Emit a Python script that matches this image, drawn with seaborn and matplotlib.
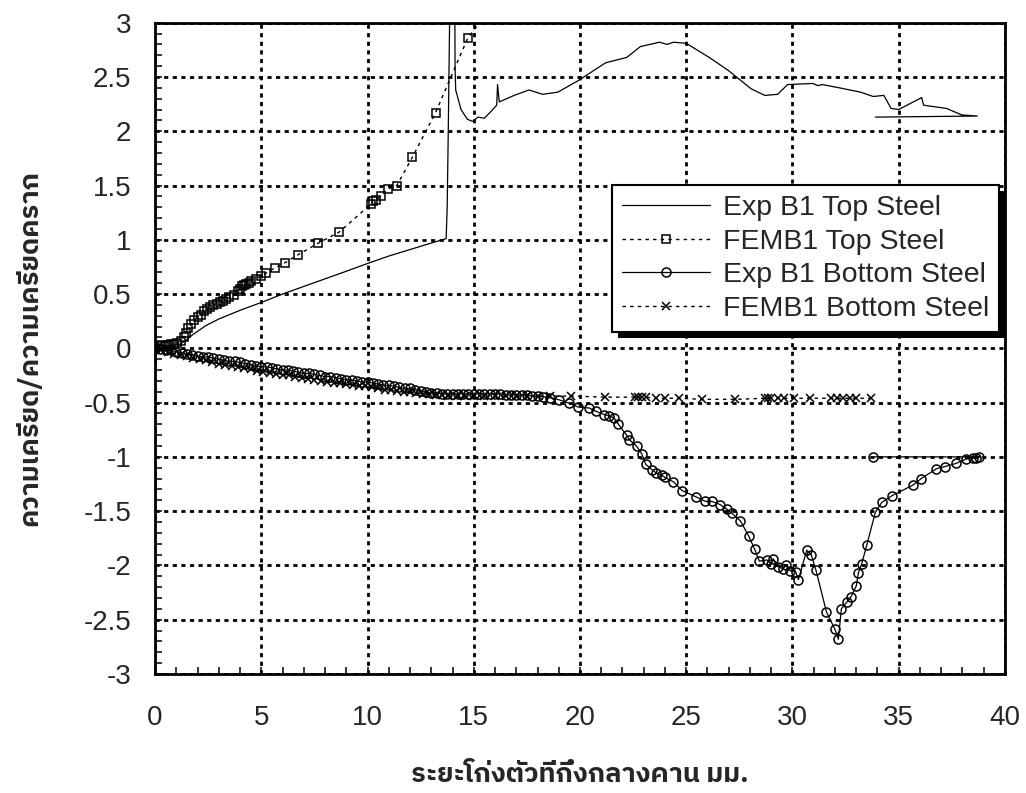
import numpy as np
import matplotlib
matplotlib.use("Agg")
import matplotlib.pyplot as plt
from matplotlib import font_manager
from matplotlib.ft2font import FT2Font
from matplotlib.patches import Rectangle
from matplotlib.transforms import IdentityTransform
from matplotlib.ticker import MultipleLocator
import seaborn as sns

# Exp B1 Top Steel (solid line, no markers)
exp_top_x = [0.0, 0.3, 0.6, 0.9, 1.2, 1.5, 1.8, 2.4, 3.0, 4.0, 5.1, 6.0, 7.0, 8.0, 9.0,
             10.05, 11.0, 12.0, 13.0, 13.7, 13.75, 13.8, 13.85, 13.9, 14.1, 14.12, 14.15,
             14.4, 14.7, 14.95, 15.2, 15.5, 15.8, 16.08, 16.12, 16.2, 16.9, 17.6, 18.24,
             18.96, 19.95, 21.2, 22.2, 22.84, 23.74, 24.1, 24.4, 25.0, 26.08, 26.98, 28.06,
             28.7, 29.3, 29.77, 30.95, 31.2, 31.4, 32.2, 33.2, 33.8, 34.3, 34.64, 35.0,
             36.08, 36.17, 37.25, 37.97, 38.7, 33.9]
exp_top_y = [0.02, 0.03, 0.02, 0.03, 0.04, 0.08, 0.13, 0.21, 0.27, 0.35, 0.43, 0.50, 0.57,
             0.64, 0.71, 0.785, 0.85, 0.91, 0.97, 1.01, 1.3, 2.0, 2.8, 3.6, 3.6, 2.6, 2.38,
             2.2, 2.11, 2.09, 2.13, 2.12, 2.18, 2.24, 2.43, 2.27, 2.33, 2.38, 2.34,
             2.36, 2.47, 2.63, 2.68, 2.78, 2.82, 2.80, 2.82, 2.81, 2.68, 2.56, 2.39,
             2.33, 2.34, 2.43, 2.44, 2.42, 2.43, 2.40, 2.36, 2.32, 2.33, 2.21, 2.20,
             2.31, 2.24, 2.21, 2.15, 2.14, 2.13]

# FEMB1 Top Steel (dotted line, square markers)
fem_top_x = [0.0, 0.15, 0.3, 0.45, 0.6, 0.75, 0.9, 1.05, 1.2, 1.35, 1.45, 1.55, 1.7, 1.85,
             2.0, 2.15, 2.3, 2.45, 2.6, 2.75, 2.9, 3.05, 3.2, 3.35, 3.5, 3.7, 3.9, 4.0, 4.1,
             4.2, 4.3, 4.4, 4.5, 4.75, 4.97, 5.2, 5.64, 6.13, 6.71, 7.69, 8.66, 10.17,
             10.25, 10.4, 10.64, 10.98, 11.38, 12.11, 13.2, 14.72, 15.6]
fem_top_y = [0.0, 0.02, 0.03, 0.02, 0.03, 0.04, 0.04, 0.05, 0.07, 0.10, 0.14, 0.19, 0.22,
             0.26, 0.29, 0.31, 0.34, 0.36, 0.38, 0.40, 0.41, 0.43, 0.44, 0.45, 0.47, 0.49,
             0.53, 0.55, 0.57, 0.58, 0.59, 0.60, 0.62, 0.64, 0.67, 0.69, 0.74, 0.79, 0.86,
             0.97, 1.07, 1.33, 1.36, 1.37, 1.40, 1.47, 1.50, 1.76, 2.17, 2.86, 3.08]

# Exp B1 Bottom Steel (solid line, circle markers)
exp_bot_x = [0.0, 0.25, 0.5, 0.75, 1.0, 1.25, 1.5, 1.75, 2.0, 2.25, 2.5, 2.75, 3.0, 3.25,
             3.5, 3.75, 4.0, 4.25, 4.5, 4.75, 5.0, 5.25, 5.5, 5.75, 6.0, 6.25, 6.5, 6.75,
             7.0, 7.25, 7.5, 7.75, 8.0, 8.25, 8.5, 8.75, 9.0, 9.25, 9.5, 9.75, 10.0, 10.25,
             10.5, 10.75, 11.0, 11.25, 11.5, 11.75, 12.0, 12.25, 12.5, 12.75, 13.0, 13.25,
             13.5, 13.75, 14.0, 14.25, 14.5, 14.75, 15.0, 15.25, 15.5, 15.75, 16.0, 16.25,
             16.5, 16.75, 17.0, 17.25, 17.5, 17.75, 18.0, 18.25, 18.6, 19.03, 19.5, 19.9,
             20.44, 20.75, 21.14, 21.35, 21.6, 21.81, 22.19, 22.31, 22.66, 22.9, 23.1, 23.4,
             23.6, 23.85, 24.0, 24.4, 24.8, 25.48, 25.9, 26.2, 26.6, 26.9, 27.15, 27.55,
             27.94, 28.22, 28.44, 28.8, 29.0, 29.1, 29.3, 29.55, 29.7, 29.9, 30.15, 30.28,
             30.67, 30.88, 31.1, 31.6, 32.0, 32.16, 32.3, 32.55, 32.75, 33.0, 33.1, 33.25,
             33.5, 33.9, 34.2, 34.66, 35.67, 36.06, 36.77, 37.16, 37.7, 38.17, 38.5, 38.64,
             38.8, 33.8]
exp_bot_y = [0.0, -0.01, -0.02, -0.02, -0.03, -0.04, -0.05, -0.06, -0.07, -0.08, -0.08,
             -0.09, -0.10, -0.11, -0.12, -0.12, -0.13, -0.14, -0.15, -0.16, -0.17, -0.17,
             -0.18, -0.19, -0.20, -0.20, -0.21, -0.22, -0.23, -0.23, -0.24, -0.25, -0.26,
             -0.26, -0.27, -0.28, -0.29, -0.29, -0.30, -0.31, -0.31, -0.32, -0.33, -0.34,
             -0.34, -0.35, -0.36, -0.37, -0.37, -0.38, -0.39, -0.40, -0.41, -0.41, -0.42,
             -0.42, -0.42, -0.42, -0.42, -0.42, -0.42, -0.42, -0.42, -0.42, -0.42, -0.42,
             -0.43, -0.43, -0.43, -0.43, -0.43, -0.44, -0.44, -0.445, -0.455, -0.475,
             -0.506, -0.54, -0.55, -0.58, -0.61, -0.62, -0.64, -0.70, -0.80, -0.84, -0.90,
             -0.97, -1.07, -1.12, -1.15, -1.17, -1.19, -1.23, -1.31, -1.37, -1.41, -1.41,
             -1.44, -1.48, -1.52, -1.59, -1.73, -1.85, -1.96, -1.95, -1.99, -1.94, -2.01,
             -2.03, -2.00, -2.05, -2.06, -2.13, -1.86, -1.90, -2.04, -2.43, -2.59, -2.68,
             -2.40, -2.34, -2.29, -2.19, -2.07, -1.99, -1.81, -1.51, -1.42, -1.36, -1.26,
             -1.20, -1.11, -1.09, -1.06, -1.02, -1.01, -1.01, -1.00, -1.00]

# FEMB1 Bottom Steel (dotted line, x markers)
fem_bot_x = [0.0, 0.3, 0.6, 0.9, 1.2, 1.5, 1.8, 2.1, 2.4, 2.7, 3.0, 3.3, 3.6, 3.9, 4.2, 4.5,
             4.8, 5.1, 5.4, 5.7, 6.0, 6.3, 6.6, 6.9, 7.2, 7.5, 7.8, 8.1, 8.4, 8.7, 9.0, 9.3,
             9.6, 9.9, 10.2, 10.5, 10.8, 11.1, 11.4, 11.7, 12.0, 12.3, 12.6, 12.9, 13.2,
             13.5, 13.8, 14.2, 14.6, 15.0, 15.5, 16.0, 16.5, 17.0, 17.5, 18.0, 18.6, 19.6,
             21.2, 22.6, 22.75, 22.9, 23.1, 23.6, 24.0, 24.66, 25.75, 27.3, 28.7, 28.85,
             29.0, 29.3, 29.6, 30.05, 30.83, 31.8, 32.1, 32.4, 32.7, 33.0, 33.7]
fem_bot_y = [0.0, -0.02, -0.03, -0.05, -0.06, -0.07, -0.09, -0.10, -0.11, -0.13, -0.14,
             -0.15, -0.16, -0.17, -0.18, -0.19, -0.21, -0.22, -0.23, -0.24, -0.25, -0.25,
             -0.26, -0.27, -0.28, -0.29, -0.30, -0.31, -0.32, -0.32, -0.33, -0.34, -0.35,
             -0.35, -0.36, -0.37, -0.38, -0.38, -0.39, -0.40, -0.40, -0.41, -0.42, -0.42,
             -0.43, -0.43, -0.44, -0.44, -0.44, -0.44, -0.44, -0.44, -0.44, -0.44, -0.44,
             -0.44, -0.44, -0.44, -0.45, -0.45, -0.45, -0.45, -0.45, -0.46, -0.46, -0.46,
             -0.47, -0.47, -0.46, -0.46, -0.46, -0.46, -0.46, -0.46, -0.46, -0.46, -0.46,
             -0.46, -0.46, -0.46, -0.46]

legend_labels = ["Exp B1 Top Steel", "FEMB1 Top Steel",
                 "Exp B1 Bottom Steel", "FEMB1 Bottom Steel"]
x_label = "ระยะโก่งตัวที่กึ่งกลางคาน มม."
y_label = "ความเครียด/ความเครียดคราก"


def thai_family():
    # pick any installed font that has Thai glyphs
    found = []
    for f in font_manager.fontManager.ttflist:
        try:
            if 0x0E23 in FT2Font(f.fname).get_charmap():
                found.append(f.name)
        except Exception:
            pass
    for name in found:
        if "Thai" in name:
            return name
    return found[0] if found else "DejaVu Sans"


sns.set_style("white")
thai = thai_family()
plt.rcParams["font.family"] = ["Liberation Sans", "DejaVu Sans"]
plt.rcParams["font.size"] = 20

fig, ax = plt.subplots(figsize=(10.26, 7.93), dpi=100)
fig.subplots_adjust(left=0.1511, right=0.9795, top=0.9714, bottom=0.1501)

sns.lineplot(x=exp_top_x, y=exp_top_y, sort=False, estimator=None, color="black",
             lw=0.9, ax=ax, label=legend_labels[0])
sns.lineplot(x=fem_top_x, y=fem_top_y, sort=False, estimator=None, color="black",
             lw=1.0, linestyle=(0, (2.5, 3)), marker="s", markersize=6,
             markerfacecolor="none", markeredgecolor="black", markeredgewidth=1.1,
             ax=ax, label=legend_labels[1])
sns.lineplot(x=exp_bot_x, y=exp_bot_y, sort=False, estimator=None, color="black",
             lw=0.9, marker="o", markersize=6.5, markerfacecolor="none",
             markeredgecolor="black", markeredgewidth=1.1, ax=ax, label=legend_labels[2])
sns.lineplot(x=fem_bot_x, y=fem_bot_y, sort=False, estimator=None, color="black",
             lw=1.0, linestyle=(0, (2.5, 3)), marker="x", markersize=5.5,
             markeredgecolor="black", markeredgewidth=1.1, ax=ax, label=legend_labels[3])

ax.set_xlim(0, 40)
ax.set_ylim(-3, 3)
ax.xaxis.set_major_locator(MultipleLocator(5))
ax.xaxis.set_minor_locator(MultipleLocator(1))
ax.yaxis.set_major_locator(MultipleLocator(0.5))
ax.yaxis.set_minor_locator(MultipleLocator(0.1))
ax.yaxis.set_major_formatter(matplotlib.ticker.FuncFormatter(lambda v, p: f"{v:g}"))

ax.set_axisbelow(True)
ax.grid(True, which="major", color="black", linestyle=(0, (1.5, 1.6)), linewidth=2)
for s in ax.spines.values():
    s.set_color("black")
    s.set_linewidth(2)

ax.tick_params(axis="both", which="both", direction="in", color="black",
               left=True, bottom=True, top=False, right=False, width=1.1)
ax.tick_params(axis="both", which="major", length=5)
ax.tick_params(axis="both", which="minor", length=5)
ax.tick_params(axis="y", which="major", pad=17, labelsize=20)
ax.tick_params(axis="x", which="major", pad=22, labelsize=20)

ax.set_xlabel(x_label, family=[thai, "Liberation Sans"], fontweight="bold", fontsize=19.5,
              va="center")
ax.set_ylabel(y_label, family=[thai, "Liberation Sans"], fontweight="bold", fontsize=19.5,
              va="center")
ax.xaxis.set_label_coords(0.5, -0.155)
ax.yaxis.set_label_coords(-0.147, 0.5)

leg = ax.legend(loc="upper left", bbox_to_anchor=(0.5376, 0.7508), borderaxespad=0,
                fontsize=20.5, frameon=True, fancybox=False, framealpha=1,
                edgecolor="black", borderpad=0.35, labelspacing=0.27,
                handlelength=3.1, handletextpad=0.45)
leg.get_frame().set_linewidth(1.5)

# drop shadow behind the legend box
fig.canvas.draw()
bb = leg.get_window_extent()
shadow = Rectangle((bb.x0 + 6, bb.y0 - 6), bb.width, bb.height, transform=IdentityTransform(),
                   facecolor="black", edgecolor="none", zorder=leg.get_zorder() - 0.1,
                   clip_on=False)
ax.add_artist(shadow)

fig.savefig("out.png", dpi=100)
